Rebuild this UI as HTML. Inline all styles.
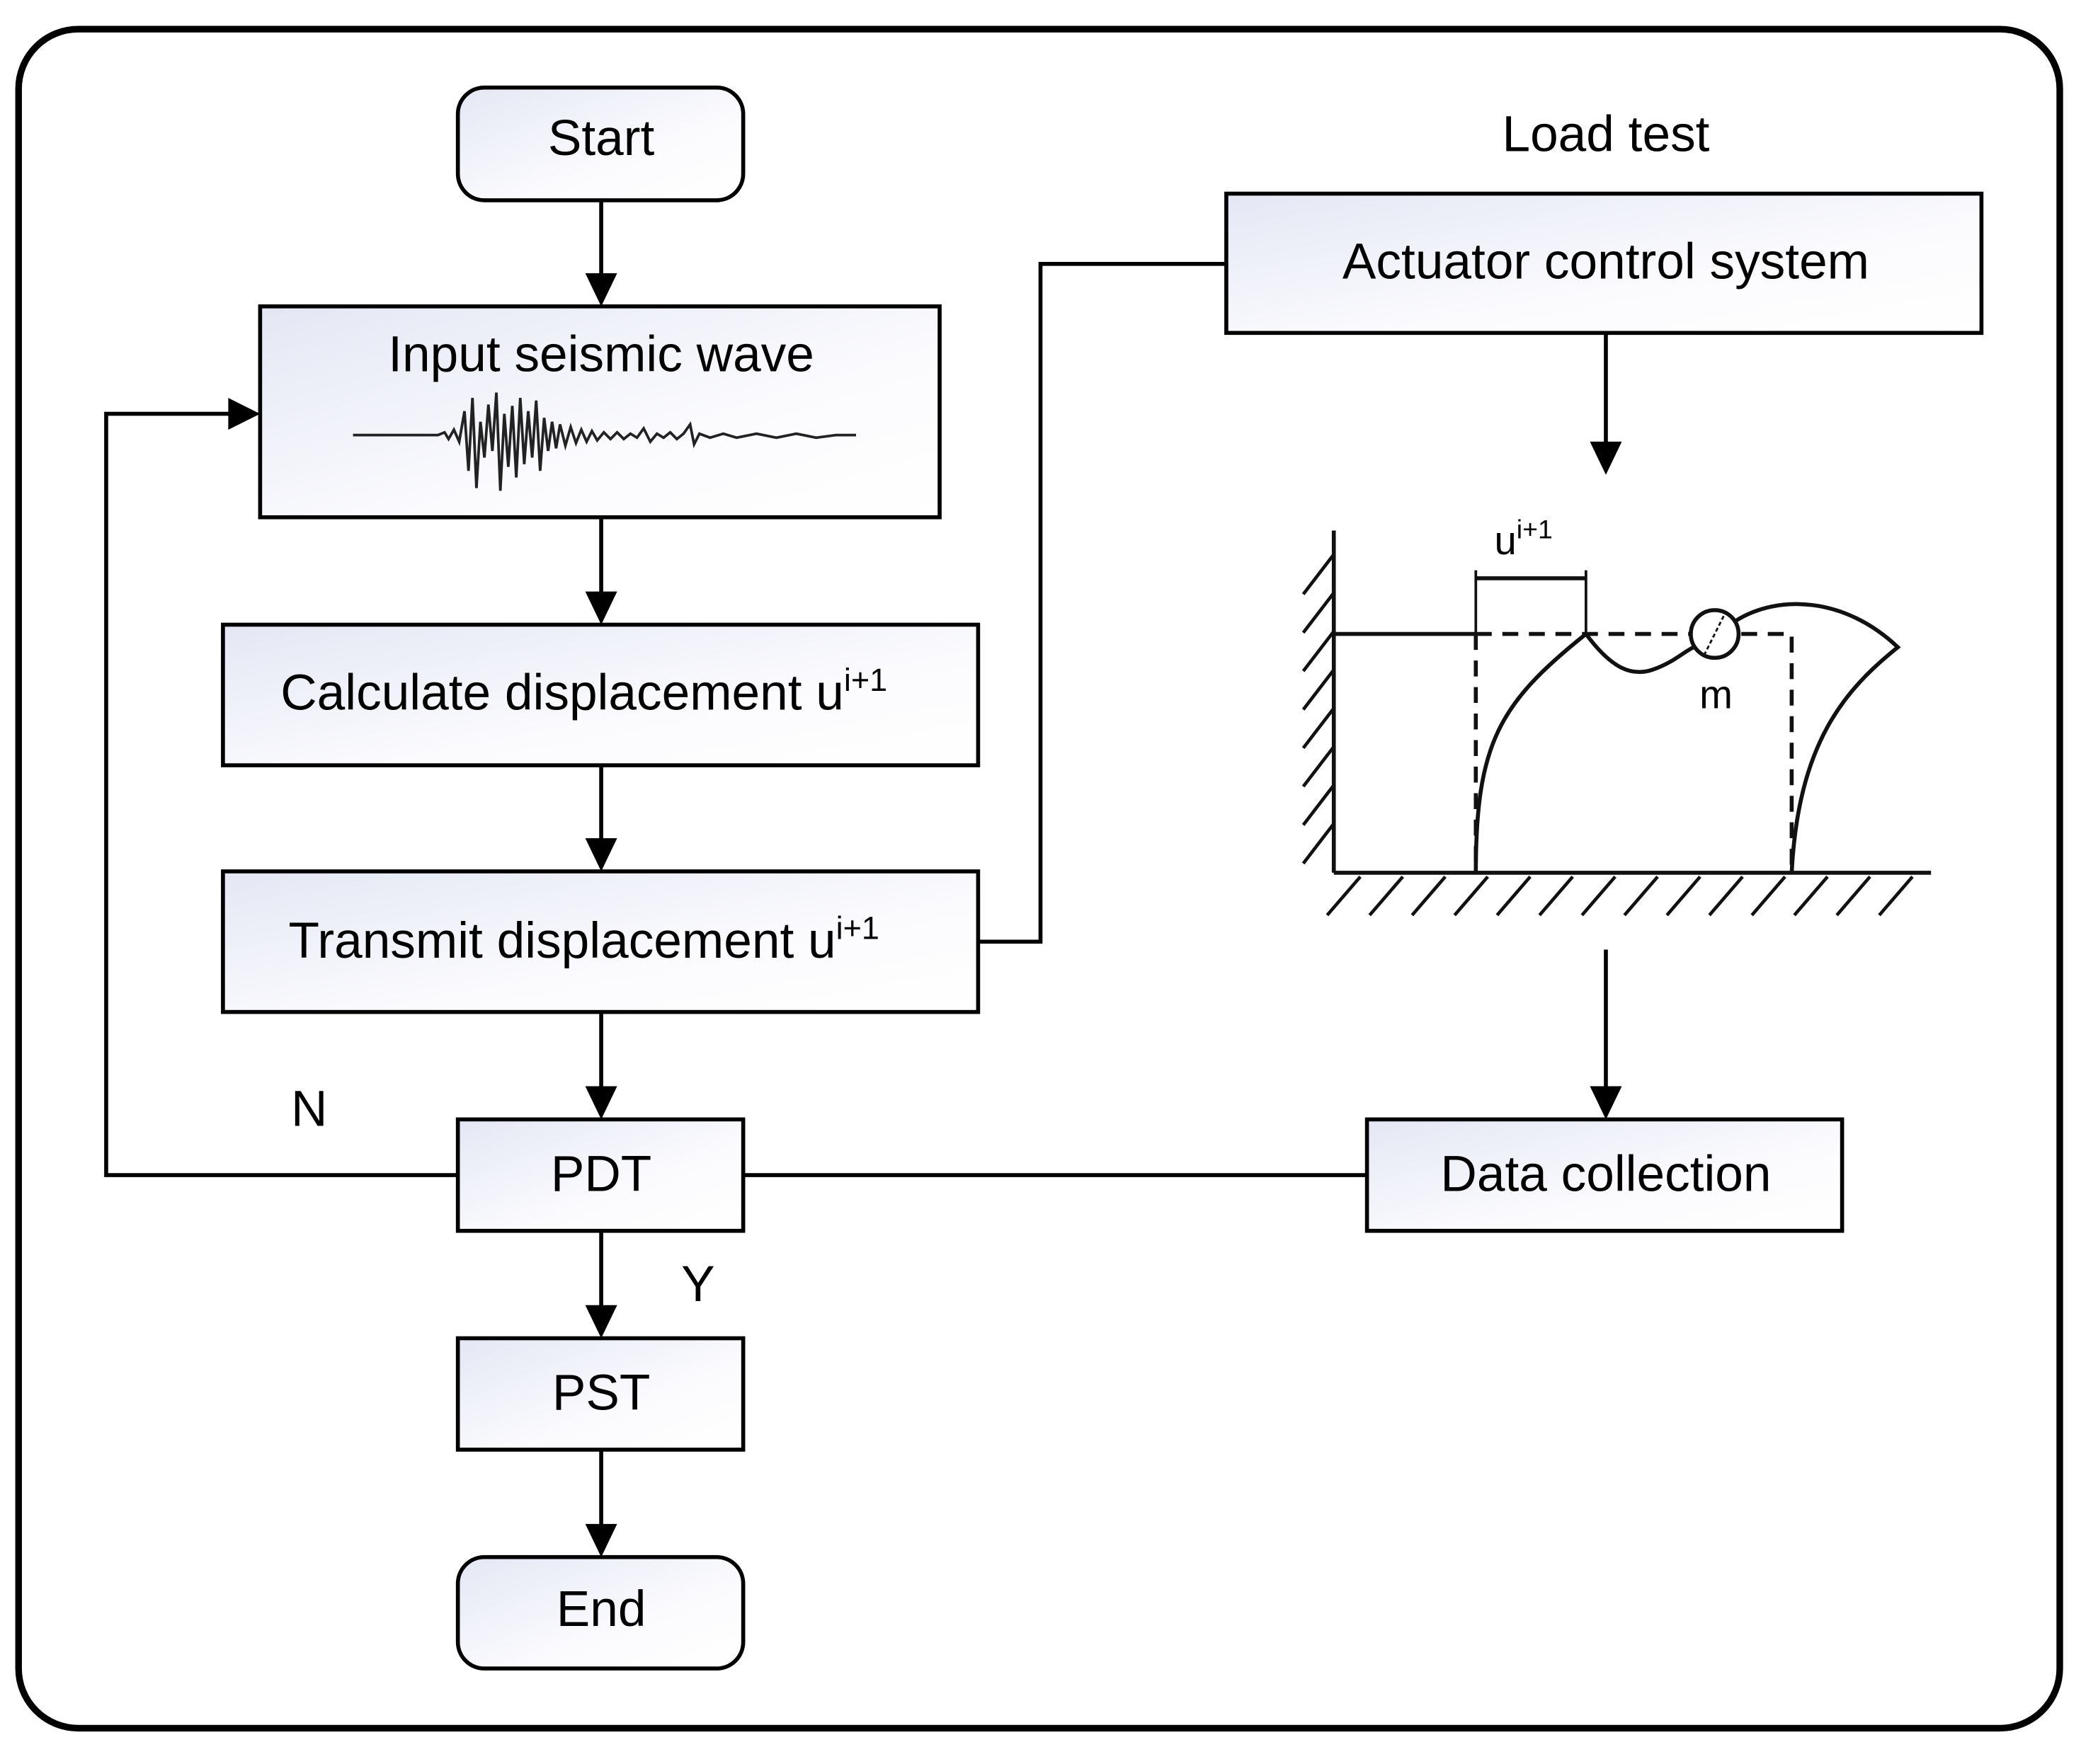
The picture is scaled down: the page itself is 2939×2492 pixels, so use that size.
<!DOCTYPE html>
<html><head><meta charset="utf-8"><style>
html,body{margin:0;padding:0;background:#fff;}
svg{display:block;}
text{font-family:"Liberation Sans","DejaVu Sans",sans-serif;fill:#000;}
</style></head><body>
<svg width="2939" height="2492" viewBox="0 0 1568 1330" preserveAspectRatio="none" xmlns="http://www.w3.org/2000/svg">
<defs>
<linearGradient id="g" x1="0" y1="0" x2="1" y2="1">
<stop offset="0" stop-color="#e4e7f4"/><stop offset="0.6" stop-color="#fbfbfe"/><stop offset="1" stop-color="#ffffff"/>
</linearGradient>
<marker id="a" markerWidth="10" markerHeight="10" refX="9" refY="5" orient="auto" markerUnits="userSpaceOnUse" viewBox="0 0 10 10">
</marker>
</defs>
<rect width="1568" height="1330" fill="#fff"/>
<rect x="14" y="22" width="1538" height="1281" rx="45" fill="none" stroke="#000" stroke-width="5"/>

<g stroke="#000" stroke-width="3" fill="url(#g)">
<rect x="345" y="66" width="215" height="85" rx="20"/>
<rect x="196" y="231" width="512" height="159"/>
<rect x="168" y="471" width="569" height="106"/>
<rect x="168" y="657" width="569" height="106"/>
<rect x="345" y="844" width="215" height="84"/>
<rect x="345" y="1009" width="215" height="84"/>
<rect x="345" y="1174" width="215" height="84" rx="20"/>
<rect x="924" y="146" width="569" height="105"/>
<rect x="1030" y="844" width="358" height="84"/>
</g>

<g stroke="#000" stroke-width="3" fill="none">
<line x1="453" y1="151" x2="453" y2="208"/>
<line x1="453" y1="390" x2="453" y2="448"/>
<line x1="453" y1="577" x2="453" y2="634"/>
<line x1="453" y1="763" x2="453" y2="821"/>
<line x1="453" y1="928" x2="453" y2="986"/>
<line x1="453" y1="1093" x2="453" y2="1151"/>
<polyline points="345,886 80,886 80,312 174,312"/>
<polyline points="737,710 784,710 784,199 924,199"/>
<line x1="1210" y1="251" x2="1210" y2="335"/>
<line x1="1210" y1="716" x2="1210" y2="821"/>
<line x1="560" y1="886" x2="1030" y2="886"/>
</g>
<g fill="#000">
<polygon points="441,206 465,206 453,231"/>
<polygon points="441,446 465,446 453,471"/>
<polygon points="441,632 465,632 453,657"/>
<polygon points="441,819 465,819 453,844"/>
<polygon points="441,984 465,984 453,1009"/>
<polygon points="441,1149 465,1149 453,1174"/>
<polygon points="172,300 172,324 196,312"/>
<polygon points="1198,333 1222,333 1210,358"/>
<polygon points="1198,819 1222,819 1210,844"/>
</g>

<g font-size="38" text-anchor="middle">
<text x="453" y="117">Start</text>
<text x="453" y="280">Input seismic wave</text>
<text x="440" y="535">Calculate displacement u<tspan font-size="24" dy="-14">i+1</tspan></text>
<text x="440" y="722">Transmit displacement u<tspan font-size="24" dy="-14">i+1</tspan></text>
<text x="453" y="898">PDT</text>
<text x="453" y="1063">PST</text>
<text x="453" y="1226">End</text>
<text x="1210" y="114">Load test</text>
<text x="1210" y="210">Actuator control system</text>
<text x="1210" y="898">Data collection</text>
<text x="233" y="849">N</text>
<text x="526" y="981">Y</text>
</g>

<polyline fill="none" stroke="#222" stroke-width="2" points="266,328 330,328 335,326 338,331 342,324 346,333 350,310 353,355 356,300 359,368 362,318 365,345 368,305 371,340 374,296 377,370 380,312 383,352 386,306 389,360 392,300 395,350 398,310 401,345 404,302 407,355 410,315 413,340 416,318 419,338 422,320 426,336 430,322 434,334 438,324 442,333 446,325 450,332 455,326 460,331 465,326 470,331 475,327 480,330 485,323 490,333 495,327 500,330 505,326 510,331 515,327 520,320 523,335 527,327 535,330 545,327 555,330 570,327 585,330 600,327 615,330 630,328 645,328"/>

<!-- structure figure -->
<g stroke="#111" stroke-width="3" fill="none">
<line x1="1005" y1="400" x2="1005" y2="658"/>
<line x1="1005" y1="658" x2="1455" y2="658"/>
<line x1="1005" y1="478" x2="1112" y2="478"/>
<polyline points="1112,478 1350,478 1350,658" stroke-dasharray="12,8"/>
<line x1="1112" y1="478" x2="1112" y2="658" stroke-dasharray="12,8"/>
<line x1="1112" y1="430" x2="1112" y2="478" stroke-width="2"/>
<line x1="1195" y1="430" x2="1195" y2="478" stroke-width="2"/>
<line x1="1112" y1="436" x2="1195" y2="436"/>
<path d="M1112,658 C1112,560 1130,530 1195,478 C1215,505 1230,510 1245,505 C1260,500 1268,492 1276,488"/>
<path d="M1308,468 C1340,448 1390,450 1430,488 C1390,520 1355,560 1350,658"/>
<circle cx="1292" cy="478" r="18" fill="#fff"/>
<line x1="1284" y1="494" x2="1300" y2="462" stroke-width="1.5" stroke-dasharray="3,2"/>
<g stroke-width="2.5">
<line x1="1005" y1="418" x2="982" y2="448"/><line x1="1005" y1="447" x2="982" y2="477"/>
<line x1="1005" y1="476" x2="982" y2="506"/><line x1="1005" y1="505" x2="982" y2="535"/>
<line x1="1005" y1="534" x2="982" y2="564"/><line x1="1005" y1="563" x2="982" y2="593"/>
<line x1="1005" y1="592" x2="982" y2="622"/><line x1="1005" y1="621" x2="982" y2="651"/>
<line x1="1025" y1="661" x2="1000" y2="690"/><line x1="1057" y1="661" x2="1032" y2="690"/>
<line x1="1089" y1="661" x2="1064" y2="690"/><line x1="1121" y1="661" x2="1096" y2="690"/>
<line x1="1153" y1="661" x2="1128" y2="690"/><line x1="1185" y1="661" x2="1160" y2="690"/>
<line x1="1217" y1="661" x2="1192" y2="690"/><line x1="1249" y1="661" x2="1224" y2="690"/>
<line x1="1281" y1="661" x2="1256" y2="690"/><line x1="1313" y1="661" x2="1288" y2="690"/>
<line x1="1345" y1="661" x2="1320" y2="690"/><line x1="1377" y1="661" x2="1352" y2="690"/>
<line x1="1409" y1="661" x2="1384" y2="690"/><line x1="1441" y1="661" x2="1416" y2="690"/>
</g>
</g>
<text x="1126" y="418" font-size="30">u<tspan font-size="20" dy="-12">i+1</tspan></text>
<text x="1293" y="534" font-size="30" text-anchor="middle">m</text>
</svg>
</body></html>
